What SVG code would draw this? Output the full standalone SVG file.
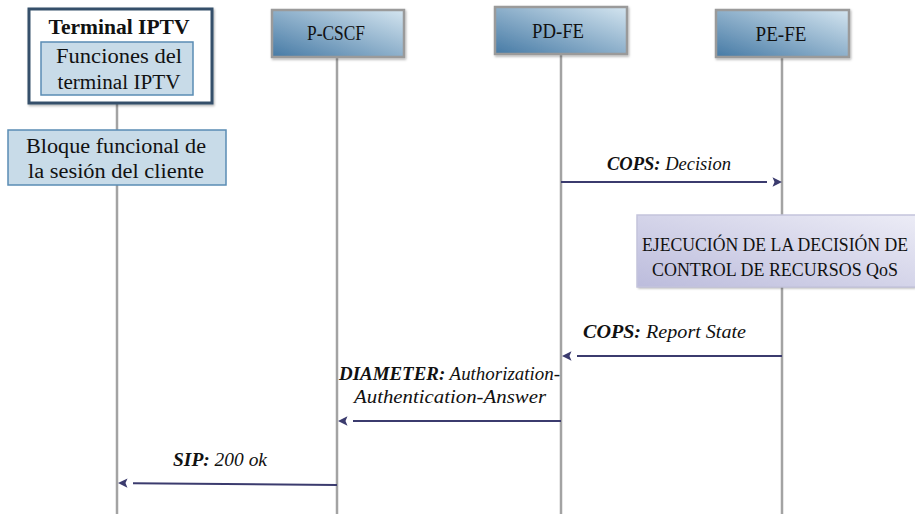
<svg xmlns="http://www.w3.org/2000/svg" width="915" height="514" viewBox="0 0 915 514">
  <defs>
    <linearGradient id="nodeFill" x1="0" y1="1" x2="1" y2="0">
      <stop offset="0" stop-color="#467aa5"/>
      <stop offset="1" stop-color="#d4e5f0"/>
    </linearGradient>
    <linearGradient id="actFill" x1="0" y1="1" x2="1" y2="0">
      <stop offset="0" stop-color="#bcbcdc"/>
      <stop offset="1" stop-color="#ececf6"/>
    </linearGradient>
    <filter id="shadow" x="-10%" y="-10%" width="120%" height="130%">
      <feDropShadow dx="1" dy="1.5" stdDeviation="1.2" flood-color="#000" flood-opacity="0.3"/>
    </filter>
    <!-- arrowhead sits a few pixels past the end of the shaft -->
    <marker id="head" viewBox="0 0 16 10" refX="1" refY="5" markerWidth="16" markerHeight="10" markerUnits="userSpaceOnUse" orient="auto">
      <path d="M6.5,0.3 L16,5 L6.5,9.7 L8.5,5 Z" fill="#3b3b6e"/>
    </marker>
  </defs>
  <style>
    text { font-family: "Liberation Serif", "DejaVu Serif", serif; fill: #111; }
    .lbl { font-size: 20.5px; text-anchor: middle; }
    .act { font-size: 18px; text-anchor: middle; }
    .msg { font-size: 19px; font-style: italic; }
    .life { stroke: #a3a3a3; stroke-width: 2.5; fill: none; }
    .node { fill: url(#nodeFill); stroke: #9a9a9a; stroke-width: 2.5; filter: url(#shadow); }
    .inner { fill: #c8dbe8; stroke: #5a8cb4; stroke-width: 1.5; }
    .arrow { stroke: #3b3b6e; stroke-width: 2; fill: none; marker-end: url(#head); }
  </style>

  <rect width="915" height="514" fill="#ffffff"/>

  <!-- lifelines -->
  <g id="lifelines">
    <line class="life" x1="117" y1="103" x2="117" y2="130"/>
    <line class="life" x1="117" y1="185" x2="117" y2="514"/>
    <line class="life" x1="337" y1="57" x2="337" y2="514"/>
    <line class="life" x1="561" y1="54" x2="561" y2="514"/>
    <line class="life" x1="782" y1="57" x2="782" y2="514"/>
  </g>

  <!-- terminal -->
  <g id="terminal-iptv">
    <rect x="29" y="9" width="183" height="94" fill="#ffffff" stroke="#34506a" stroke-width="3" filter="url(#shadow)"/>
    <text x="119" y="34" font-size="20.5" font-weight="bold" text-anchor="middle" textLength="141" lengthAdjust="spacingAndGlyphs">Terminal IPTV</text>
    <rect class="inner" x="41" y="42" width="152" height="53"/>
    <text class="lbl" x="119" y="63" textLength="126" lengthAdjust="spacingAndGlyphs">Funciones del</text>
    <text class="lbl" x="119" y="89" textLength="123" lengthAdjust="spacingAndGlyphs">terminal IPTV</text>
  </g>

  <g id="bloque-sesion">
    <rect class="inner" x="8" y="130" width="218" height="55"/>
    <text class="lbl" x="116" y="153" textLength="180" lengthAdjust="spacingAndGlyphs">Bloque funcional de</text>
    <text class="lbl" x="116" y="178" textLength="176" lengthAdjust="spacingAndGlyphs">la sesión del cliente</text>
  </g>

  <g id="p-cscf">
    <rect class="node" x="272" y="10" width="132" height="47"/>
    <text class="lbl" x="336" y="40" textLength="58" lengthAdjust="spacingAndGlyphs">P-CSCF</text>
  </g>

  <g id="pd-fe">
    <rect class="node" x="495" y="7" width="132" height="47"/>
    <text class="lbl" x="558" y="38" textLength="52" lengthAdjust="spacingAndGlyphs">PD-FE</text>
  </g>

  <g id="pe-fe">
    <rect class="node" x="716" y="10" width="133" height="47"/>
    <text class="lbl" x="781" y="41" textLength="51" lengthAdjust="spacingAndGlyphs">PE-FE</text>
  </g>

  <!-- action box runs to the right edge, open on that side -->
  <g id="ejecucion">
    <rect x="637" y="215" width="278" height="72" fill="url(#actFill)" filter="url(#shadow)"/>
    <path d="M915,215 H637 V287 H915" fill="none" stroke="#c4c4dc" stroke-width="1.5"/>
    <text class="act" x="775" y="251" textLength="266" lengthAdjust="spacingAndGlyphs">EJECUCIÓN DE LA DECISIÓN DE</text>
    <text class="act" x="775" y="276" textLength="246" lengthAdjust="spacingAndGlyphs">CONTROL DE RECURSOS QoS</text>
  </g>

  <!-- messages -->
  <g id="connectors">
    <line class="arrow" x1="561" y1="182" x2="767" y2="182"/>
    <line class="arrow" x1="782" y1="356" x2="577" y2="356"/>
    <line class="arrow" x1="561" y1="421" x2="353" y2="421"/>
    <line class="arrow" x1="337" y1="485" x2="133" y2="483.15"/>
  </g>

  <g id="labels">
    <text class="msg" x="607" y="170" textLength="124" lengthAdjust="spacingAndGlyphs"><tspan font-weight="bold">COPS:</tspan> Decision</text>
    <text class="msg" x="583" y="338" textLength="163" lengthAdjust="spacingAndGlyphs"><tspan font-weight="bold">COPS:</tspan> Report State</text>
    <text class="msg" x="339" y="380" textLength="221" lengthAdjust="spacingAndGlyphs"><tspan font-weight="bold">DIAMETER:</tspan> Authorization-</text>
    <text class="msg" x="354" y="403" textLength="192" lengthAdjust="spacingAndGlyphs">Authentication-Answer</text>
    <text class="msg" x="173" y="466" textLength="94" lengthAdjust="spacingAndGlyphs"><tspan font-weight="bold">SIP:</tspan> 200 ok</text>
  </g>
</svg>
